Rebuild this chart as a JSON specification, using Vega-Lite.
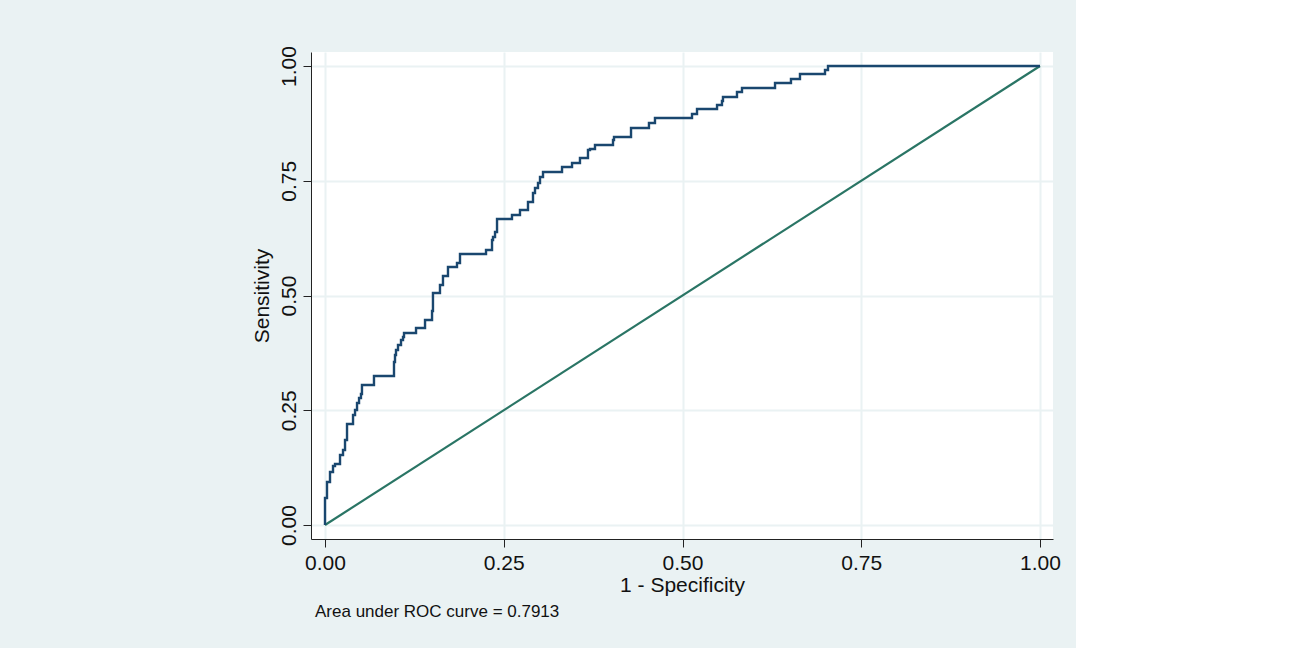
{
  "$schema": "https://vega.github.io/schema/vega-lite/v6.json",
  "autosize": {"type": "none"},
  "width": 742,
  "height": 487,
  "padding": {"left": 311, "top": 52, "right": 23, "bottom": 109},
  "background": "#EAF2F3",
  "config": {
    "view": {"fill": "white", "stroke": null},
    "font": "Liberation Sans",
    "axis": {
      "labelFont": "Liberation Sans",
      "titleFont": "Liberation Sans",
      "labelFontSize": 21,
      "titleFontSize": 21,
      "titleFontWeight": "normal",
      "labelColor": "#111",
      "titleColor": "#111",
      "domainColor": "#222",
      "tickColor": "#222",
      "tickSize": 8,
      "gridColor": "#EAF2F3",
      "gridWidth": 2,
      "labelFlush": false,
      "labelOverlap": false
    }
  },
  "datasets": {
    "roc": [
      {"fpr": 0, "sens": 0},
      {"fpr": 0, "sens": 0.0588},
      {"fpr": 0.0028, "sens": 0.0937},
      {"fpr": 0.0070, "sens": 0.1155},
      {"fpr": 0.0112, "sens": 0.1285},
      {"fpr": 0.0140, "sens": 0.1329},
      {"fpr": 0.0210, "sens": 0.1525},
      {"fpr": 0.0252, "sens": 0.1634},
      {"fpr": 0.0280, "sens": 0.1852},
      {"fpr": 0.0308, "sens": 0.2200},
      {"fpr": 0.0392, "sens": 0.2397},
      {"fpr": 0.0420, "sens": 0.2505},
      {"fpr": 0.0448, "sens": 0.2658},
      {"fpr": 0.0476, "sens": 0.2767},
      {"fpr": 0.0503, "sens": 0.2854},
      {"fpr": 0.0517, "sens": 0.3050},
      {"fpr": 0.0685, "sens": 0.3246},
      {"fpr": 0.0965, "sens": 0.3551},
      {"fpr": 0.0979, "sens": 0.3704},
      {"fpr": 0.0993, "sens": 0.3813},
      {"fpr": 0.1021, "sens": 0.3922},
      {"fpr": 0.1063, "sens": 0.4031},
      {"fpr": 0.1091, "sens": 0.4096},
      {"fpr": 0.1105, "sens": 0.4183},
      {"fpr": 0.1273, "sens": 0.4292},
      {"fpr": 0.1399, "sens": 0.4466},
      {"fpr": 0.1497, "sens": 0.4662},
      {"fpr": 0.1510, "sens": 0.5054},
      {"fpr": 0.1608, "sens": 0.5229},
      {"fpr": 0.1650, "sens": 0.5425},
      {"fpr": 0.1720, "sens": 0.5621},
      {"fpr": 0.1846, "sens": 0.5708},
      {"fpr": 0.1888, "sens": 0.5904},
      {"fpr": 0.2252, "sens": 0.5991},
      {"fpr": 0.2336, "sens": 0.6209},
      {"fpr": 0.2350, "sens": 0.6275},
      {"fpr": 0.2378, "sens": 0.6383},
      {"fpr": 0.2406, "sens": 0.6667},
      {"fpr": 0.2615, "sens": 0.6754},
      {"fpr": 0.2727, "sens": 0.6863},
      {"fpr": 0.2839, "sens": 0.7037},
      {"fpr": 0.2909, "sens": 0.7233},
      {"fpr": 0.2937, "sens": 0.7342},
      {"fpr": 0.2979, "sens": 0.7451},
      {"fpr": 0.3007, "sens": 0.7582},
      {"fpr": 0.3049, "sens": 0.7691},
      {"fpr": 0.3315, "sens": 0.7800},
      {"fpr": 0.3455, "sens": 0.7887},
      {"fpr": 0.3566, "sens": 0.7996},
      {"fpr": 0.3678, "sens": 0.8170},
      {"fpr": 0.3706, "sens": 0.8192},
      {"fpr": 0.3776, "sens": 0.8279},
      {"fpr": 0.4028, "sens": 0.8388},
      {"fpr": 0.4042, "sens": 0.8453},
      {"fpr": 0.4280, "sens": 0.8649},
      {"fpr": 0.4531, "sens": 0.8758},
      {"fpr": 0.4615, "sens": 0.8867},
      {"fpr": 0.5133, "sens": 0.8954},
      {"fpr": 0.5203, "sens": 0.9063},
      {"fpr": 0.5483, "sens": 0.9150},
      {"fpr": 0.5552, "sens": 0.9237},
      {"fpr": 0.5566, "sens": 0.9325},
      {"fpr": 0.5762, "sens": 0.9434},
      {"fpr": 0.5832, "sens": 0.9521},
      {"fpr": 0.6294, "sens": 0.9630},
      {"fpr": 0.6517, "sens": 0.9717},
      {"fpr": 0.6643, "sens": 0.9826},
      {"fpr": 0.6993, "sens": 0.9913},
      {"fpr": 0.7035, "sens": 1},
      {"fpr": 1, "sens": 1}
    ],
    "ref": [
      {"fpr": 0, "sens": 0},
      {"fpr": 1, "sens": 1}
    ]
  },
  "title": {
    "text": "Area under ROC curve = 0.7913",
    "orient": "bottom",
    "anchor": "start",
    "frame": "group",
    "font": "Liberation Sans",
    "fontSize": 17,
    "fontWeight": "normal",
    "color": "#111",
    "offset": 9,
    "dx": 4
  },
  "layer": [
    {
      "data": {"name": "ref"},
      "mark": {"type": "line", "color": "#2a7565", "strokeWidth": 2.2},
      "encoding": {
        "x": {
          "field": "fpr",
          "type": "quantitative",
          "scale": {"domain": [-0.01958, 1.01818], "nice": false, "zero": false},
          "axis": {
            "values": [0, 0.25, 0.5, 0.75, 1],
            "format": ".2f",
            "title": "1 - Specificity",
            "labelPadding": 5,
            "titlePadding": 1
          }
        },
        "y": {
          "field": "sens",
          "type": "quantitative",
          "scale": {"domain": [-0.0305, 1.0305], "nice": false, "zero": false},
          "axis": {
            "values": [0, 0.25, 0.5, 0.75, 1],
            "format": ".2f",
            "title": "Sensitivity",
            "labelAngle": -90,
            "labelAlign": "center",
            "labelBaseline": "alphabetic",
            "labelPadding": 8,
            "titlePadding": 6
          }
        }
      }
    },
    {
      "data": {"name": "roc"},
      "mark": {"type": "line", "color": "#1a476f", "strokeWidth": 2.4, "interpolate": "step-after"},
      "encoding": {
        "x": {"field": "fpr", "type": "quantitative"},
        "y": {"field": "sens", "type": "quantitative"}
      }
    }
  ]
}
